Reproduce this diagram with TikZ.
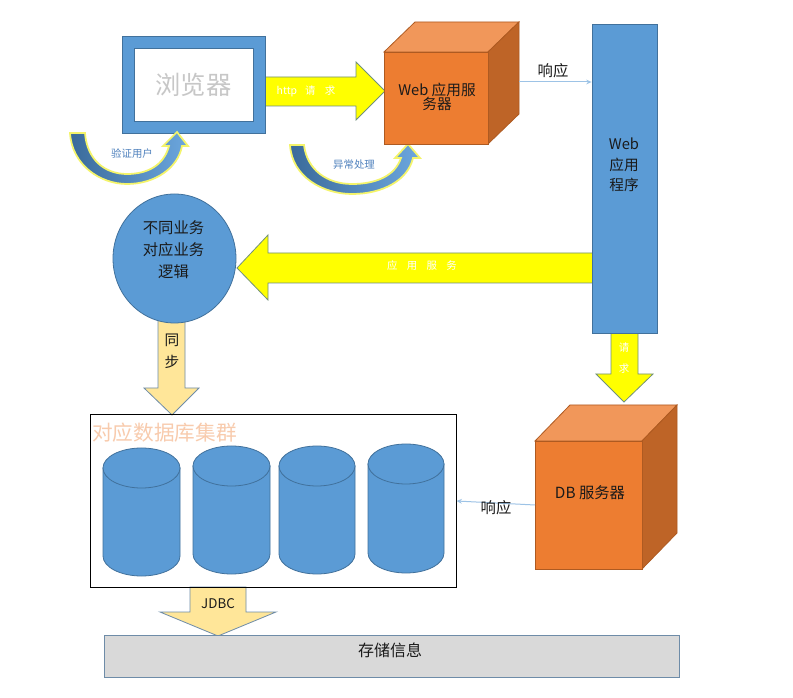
\documentclass[tikz,border=0pt]{standalone}
\usepackage{fontspec}
\setmainfont{Noto Sans CJK SC}
\usetikzlibrary{arrows.meta,shapes.geometric}
\definecolor{bl}{HTML}{5B9BD5}
\definecolor{blo}{HTML}{41719C}
\definecolor{orf}{HTML}{ED7D31}
\definecolor{ort}{HTML}{F1975A}
\definecolor{ors}{HTML}{BE6427}
\definecolor{oro}{HTML}{AE5A21}
\definecolor{yel}{HTML}{FFFF00}
\definecolor{yelo}{HTML}{71907A}
\definecolor{tanf}{HTML}{FFE699}
\definecolor{tano}{HTML}{6E8CA8}
\definecolor{gry}{HTML}{D9D9D9}
\definecolor{peach}{HTML}{F8CBAD}
\definecolor{lnk}{HTML}{9DC3E6}
\definecolor{txt}{HTML}{1A1A1A}
\definecolor{cbl}{HTML}{4F81BD}
\definecolor{cdark}{HTML}{3A6A9A}
\definecolor{clight}{HTML}{6CA7DE}
\definecolor{glow}{HTML}{F4F46A}
\tikzset{
  fs/.style={font=\fontsize{#1}{#1*1.25}\selectfont},
  yarrow/.style={fill=yel, draw=yelo, line width=0.6pt},
  tarrow/.style={fill=tanf, draw=tano, line width=0.6pt},
  curvarr/.style={left color=cdark, right color=clight, draw=glow, line width=1.3pt},
  cubefront/.style={fill=orf, draw=oro, line width=0.6pt},
  cubetop/.style={fill=ort, draw=oro, line width=0.6pt},
  cubeside/.style={fill=ors, draw=oro, line width=0.6pt},
  cyl/.style={fill=bl, draw=blo, line width=0.6pt},
  resp/.style={draw=lnk, line width=0.75pt, -{Stealth[length=4pt,width=3.5pt]}},
  dtext/.style={text=txt, inner sep=0pt},
  wtext/.style={text=white, inner sep=0pt, fs=7.8pt},
}
\begin{document}
\begin{tikzpicture}[x=0.75pt,y=-0.75pt]
\useasboundingbox (0,0) rectangle (793,698);
\fill[white] (0,0) rectangle (793,698);

% block arrows (under the shapes they touch)
\draw[yarrow] (262,77) -- (356,77) -- (356,62) -- (385,91) -- (356,120) -- (356,106) -- (262,106) -- cycle;
\draw[yarrow] (593,253) -- (268,253) -- (268,235) -- (237,268) -- (268,300) -- (268,283) -- (593,283) -- cycle;
\draw[tarrow] (158,318) -- (185,318) -- (185,388) -- (199,388) -- (172,415) -- (144,388) -- (158,388) -- cycle;
\draw[yarrow] (611,333) -- (638,333) -- (638,374) -- (653,374) -- (624,402) -- (596,374) -- (611,374) -- cycle;
\draw[tarrow] (190,587) -- (246,587) -- (246,612) -- (276,612) -- (218,636) -- (160,612) -- (190,612) -- cycle;

% browser
\node[draw=blo, fill=bl, line width=0.6pt, minimum width={143*0.75pt}, minimum height={97*0.75pt}] (browser) at (193.5,84.5) {};
\node[draw=blo, fill=white, line width=0.6pt, minimum width={119*0.75pt}, minimum height={73*0.75pt}, text=black!22, fs=19pt] (browserin) at (193.5,84.5) {浏览器};
\node[wtext] (httptxt) at (306,91) {http\hspace{6pt}请\hspace{7pt}求};

% curved arrows
\shade[curvarr] (70,133) .. controls (72,165) and (100,184) .. (127,184) .. controls (155,184) and (178,168) .. (182,146)
  -- (188,146) -- (177,132) -- (163,146) -- (169,146)
  .. controls (164,165) and (148,174) .. (127,174) .. controls (105,174) and (87,160) .. (85,133) -- cycle;
\node[text=cbl, inner sep=0pt, fs=7.8pt] (vtxt) at (132,154) {验证用户};
\shade[curvarr] (290,145) .. controls (292,177) and (323,194) .. (352,194) .. controls (383,194) and (408,180) .. (413,158)
  -- (420,158) -- (408,144) -- (395,158) -- (401,158)
  .. controls (395,176) and (376,184) .. (352,184) .. controls (327,184) and (307,170) .. (304,145) -- cycle;
\node[text=cbl, inner sep=0pt, fs=7.8pt] (etxt) at (354,165) {异常处理};

% web server cube
\draw[cubetop] (384,52) -- (415,22) -- (519,22) -- (488,52) -- cycle;
\draw[cubeside] (488,52) -- (519,22) -- (519,114) -- (488,144) -- cycle;
\node[cubefront, minimum width={104*0.75pt}, minimum height={92*0.75pt}] (ws) at (436,98) {};
\node[dtext, align=center, fs=11pt] (wstxt) at (437,97) {Web 应用服\\务器};
\coordinate (wsside) at (519,82);

% web application bar
\node[fill=bl, draw=blo, line width=0.6pt, minimum width={65*0.75pt}, minimum height={309*0.75pt}] (app) at (624.5,178.5) {};
\node[dtext, align=center, font=\fontsize{11pt}{15.4pt}\selectfont] (apptxt) at (624,165) {Web\\应用\\程序};
\draw[resp] (wsside) -- (app.west |- wsside);
\node[dtext, fs=11.5pt] (r1) at (553,71) {响应};
\node[wtext] (svc) at (422,266) {应\hspace{7pt}用\hspace{7pt}服\hspace{7pt}务};
\node[wtext, align=center, font=\fontsize{7.8pt}{15.5pt}\selectfont] (reqtxt) at (624,358) {请\\求};

% business logic circle
\node[ellipse, fill=bl, draw=blo, line width=0.6pt, minimum width={123*0.75pt}, minimum height={129*0.75pt}] (logic) at (174.5,258.5) {};
\node[dtext, align=center, font=\fontsize{11.5pt}{16.5pt}\selectfont] (logictxt) at (173.5,250) {不同业务\\对应业务\\逻辑};
\node[dtext, align=center, font=\fontsize{11pt}{16.5pt}\selectfont] (synctxt) at (172,351) {同\\步};

% database cluster
\node[draw=black, line width=0.75pt, minimum width={366*0.75pt}, minimum height={172*0.75pt}] (cluster) at (273,501) {};
\node[text=peach, inner sep=0pt, anchor=west, fs=15.5pt] (ctitle) at (92,433) {对应数据库集群};
\foreach \L/\R/\T/\B/\n in {103/180/448/576/1, 193/270/446/574/2, 279/355/446/574/3, 368/444/444/573/4}{
  \pgfmathsetmacro\rx{(\R-\L)/2}
  \pgfmathsetmacro\cx{(\R+\L)/2}
  \draw[cyl] (\L,\T+20) -- (\L,\B-20) arc[start angle=180, end angle=0, x radius=\rx, y radius=20] -- (\R,\T+20) -- cycle;
  \draw[cyl] (\cx,\T+20) ellipse[x radius=\rx, y radius=20];
  \coordinate (db\n) at (\cx,\T+20);
}

% DB server cube
\draw[cubetop] (535,441) -- (570,405) -- (677,405) -- (642,441) -- cycle;
\draw[cubeside] (642,441) -- (677,405) -- (677,533) -- (642,569) -- cycle;
\node[cubefront, minimum width={107*0.75pt}, minimum height={128*0.75pt}] (dbs) at (588.5,505) {};
\node[dtext, fs=11.5pt] (dbstxt) at (590,493) {DB 服务器};
\coordinate (dbl) at (535,505);
\draw[resp] (dbl) -- (cluster.east);
\node[dtext, fs=11.5pt] (r2) at (496,508) {响应};

% JDBC and storage
\node[dtext, fs=10pt] (jdbc) at (218,604) {JDBC};
\node[fill=gry, draw=tano, line width=0.6pt, minimum width={575*0.75pt}, minimum height={42*0.75pt}] (store) at (391.5,656) {};
\node[dtext, fs=12pt] (storetxt) at (390,650) {存储信息};
\end{tikzpicture}
\end{document}
